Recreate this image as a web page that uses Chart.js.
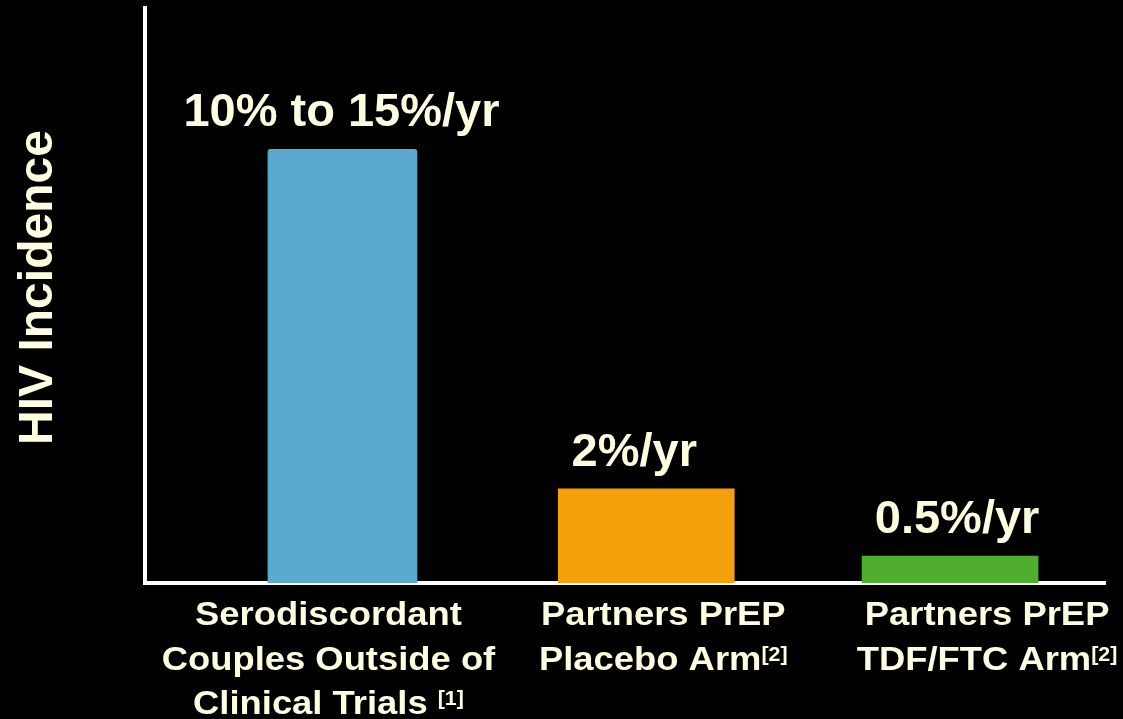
<!DOCTYPE html>
<html>
<head>
<meta charset="utf-8">
<script src="https://cdn.jsdelivr.net/npm/chart.js@4.4.1/dist/chart.umd.min.js"></script>
<style>
  html, body { margin: 0; padding: 0; background: #000; }
  #wrap { width: 1123px; height: 719px; }
</style>
</head>
<body>
<div id="wrap"><canvas id="chart"></canvas></div>
<script>
// Categories under each bar (last line gets the reference superscript)
const categoryLines = [
  ['Serodiscordant', 'Couples Outside of', 'Clinical Trials '],
  ['Partners PrEP', 'Placebo Arm'],
  ['Partners PrEP', 'TDF/FTC Arm']
];
const categoryRefs = ['[1]', '[2]', '[2]'];
const categoryPos = [1, 2, 3];

// HIV incidence (%/yr), bar heights as drawn on the slide
const incidence = [9.2, 2.0, 0.57];
const valueLabels = ['10% to 15%/yr', '2%/yr', '0.5%/yr'];

const barColors = ['#5BA9CE', '#F5A10B', '#4FAE2D'];
const barWidths = [149, 176, 176];
const TEXT = '#FFFDE0';
const FONT = '"Liberation Sans", Arial, sans-serif';
const STRETCH = 1.07;

// texte étiré horizontalement (comme sur la diapo)
function stretchText(ctx, txt, x, y, sx) {
  ctx.save();
  ctx.translate(x, y);
  ctx.scale(sx, 1);
  ctx.fillText(txt, 0, 0);
  ctx.restore();
}

// Texte: valeurs au-dessus des barres, catégories, titre de l'axe Y
const annotate = {
  id: 'annotate',
  afterDatasetsDraw(chart) {
    const { ctx, chartArea } = chart;
    const valueShift = [-1, -12, 7];
    const labelShift = [-14, 17, 37];
    ctx.save();
    ctx.fillStyle = TEXT;
    ctx.textBaseline = 'alphabetic';

    // valeurs
    ctx.font = 'bold 47px ' + FONT;
    ctx.textAlign = 'center';
    chart.data.datasets.forEach((ds, i) => {
      const bar = chart.getDatasetMeta(i).data[0];
      ctx.fillText(valueLabels[i], bar.x + valueShift[i], bar.y - 23);
    });

    // catégories
    chart.data.datasets.forEach((ds, i) => {
      const bar = chart.getDatasetMeta(i).data[0];
      const cx = bar.x + labelShift[i];
      const lines = categoryLines[i];
      lines.forEach((line, k) => {
        const by = chartArea.bottom + 42 + k * 44.5;
        ctx.font = 'bold 34px ' + FONT;
        if (k < lines.length - 1) {
          ctx.textAlign = 'center';
          stretchText(ctx, line, cx, by, STRETCH);
        } else {
          const w1 = ctx.measureText(line).width * STRETCH;
          ctx.font = 'bold 20px ' + FONT;
          const w2 = ctx.measureText(categoryRefs[i]).width * STRETCH;
          const x0 = cx - (w1 + w2) / 2;
          ctx.textAlign = 'left';
          ctx.font = 'bold 34px ' + FONT;
          stretchText(ctx, line, x0, by, STRETCH);
          ctx.font = 'bold 20px ' + FONT;
          stretchText(ctx, categoryRefs[i], x0 + w1, by - 9, STRETCH);
        }
      });
    });

    // titre Y
    ctx.translate(chartArea.left - 93, (chartArea.top + chartArea.bottom) / 2 - 8);
    ctx.rotate(-Math.PI / 2);
    ctx.textAlign = 'center';
    ctx.font = 'bold 48px ' + FONT;
    ctx.fillText('HIV Incidence', 0, 0);
    ctx.restore();
  }
};

const datasets = incidence.map((v, i) => ({
  label: valueLabels[i],
  data: [{ x: categoryPos[i], y: v }],
  backgroundColor: barColors[i],
  barThickness: barWidths[i],
  borderRadius: i === 0 ? 3 : 0
}));

new Chart(document.getElementById('chart'), {
  type: 'bar',
  data: { datasets },
  plugins: [annotate],
  options: {
    responsive: true,
    maintainAspectRatio: false,
    animation: false,
    grouped: false,
    layout: { padding: { left: 145, top: 8, right: 18, bottom: 136 } },
    plugins: { legend: { display: false }, tooltip: { enabled: false } },
    scales: {
      x: {
        type: 'linear', min: 0.35, max: 3.51, offset: false,
        ticks: { display: false },
        grid: { display: false, drawTicks: false },
        border: { display: true, color: '#fff', width: 4 }
      },
      y: {
        min: 0, max: 12.2,
        ticks: { display: false },
        grid: { display: false, drawTicks: false },
        border: { display: true, color: '#fff', width: 4 }
      }
    }
  }
});
</script>
</body>
</html>
